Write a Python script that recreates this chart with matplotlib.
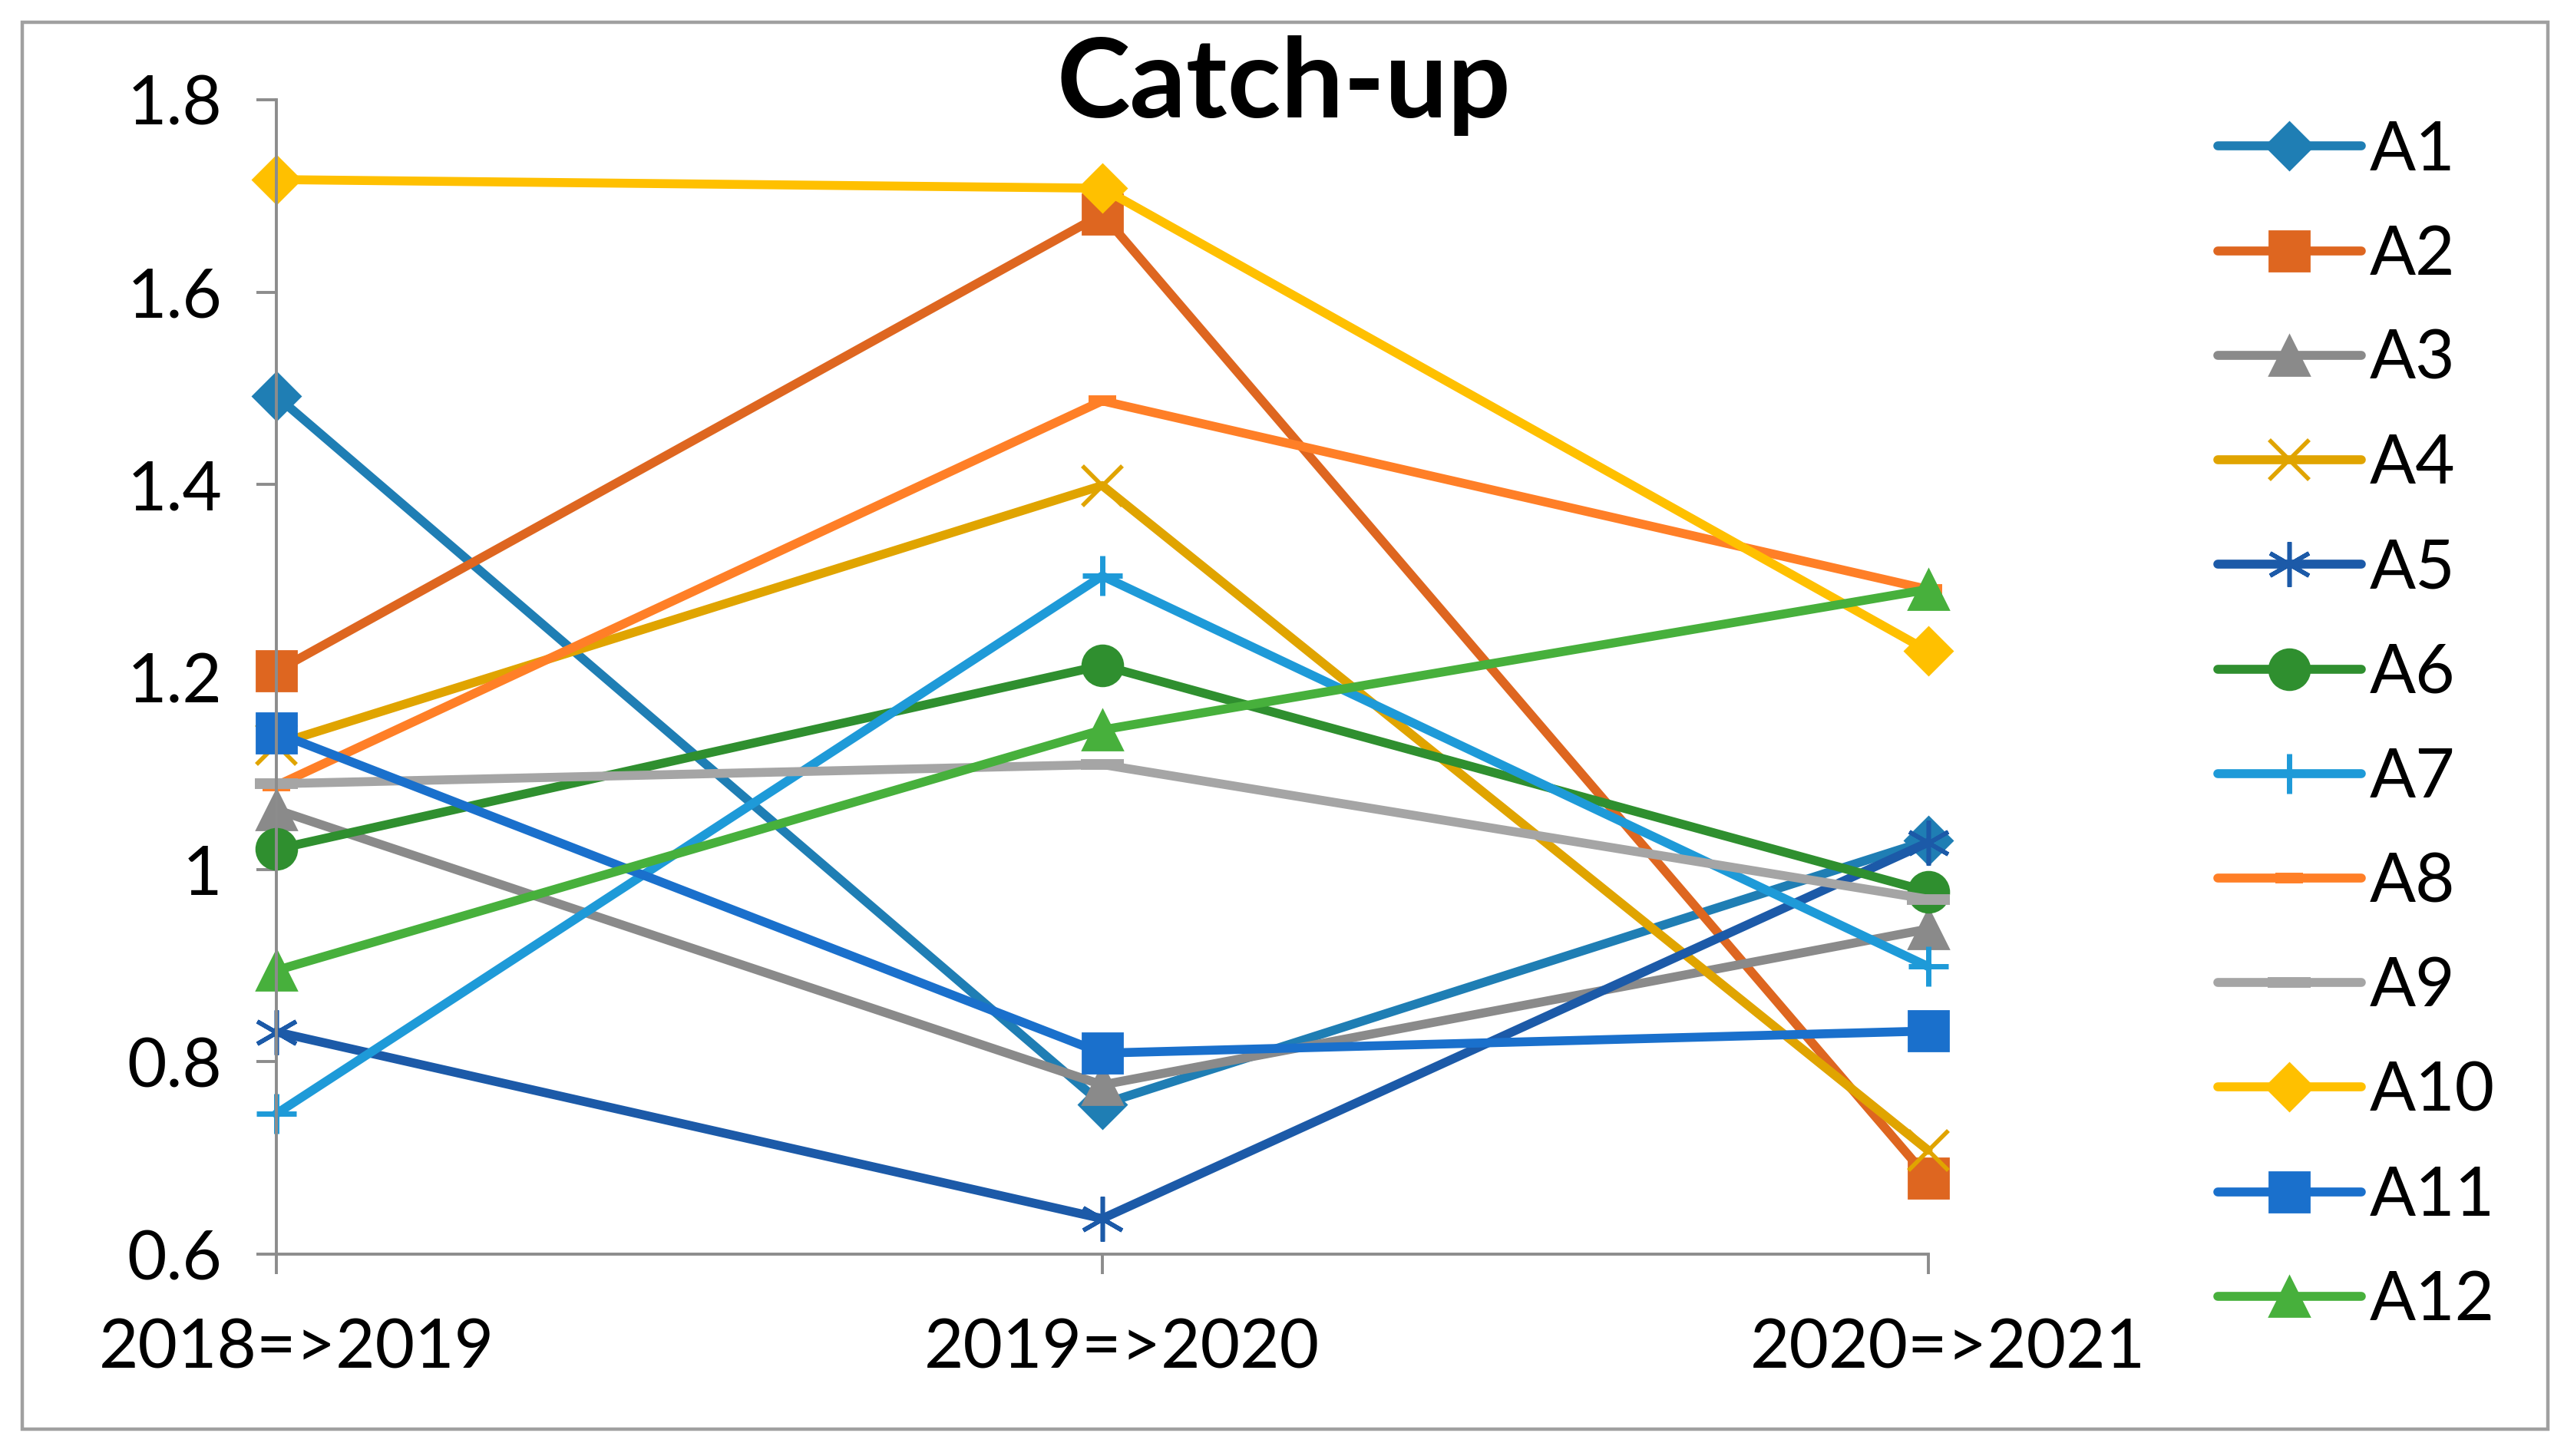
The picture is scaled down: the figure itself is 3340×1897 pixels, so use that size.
import matplotlib
matplotlib.use("Agg")
import matplotlib.pyplot as plt
from matplotlib.patches import Rectangle
from matplotlib.transforms import ScaledTranslation

# data
periods = ["2018=>2019", "2019=>2020", "2020=>2021"]
names = ["A1", "A2", "A3", "A4", "A5", "A6", "A7", "A8", "A9", "A10", "A11", "A12"]
a1 = [1.492, 0.756, 1.030]
a2 = [1.206, 1.681, 0.679]
a3 = [1.062, 0.776, 0.938]
a4 = [1.130, 1.399, 0.708]
a5 = [0.831, 0.637, 1.028]
a6 = [1.021, 1.212, 0.977]
a7 = [0.746, 1.305, 0.899]
a8 = [1.087, 1.487, 1.291]
a9 = [1.089, 1.109, 0.969]
a10 = [1.717, 1.708, 1.227]
a11 = [1.142, 0.809, 0.832]
a12 = [0.895, 1.145, 1.291]
values = [a1, a2, a3, a4, a5, a6, a7, a8, a9, a10, a11, a12]

colors = ["#1F7EB4", "#DE6620", "#8A8A8A", "#E0A400", "#1C5AA8", "#2F8F2F",
          "#1E9AD8", "#FF7F27", "#A5A5A5", "#FFC000", "#1A70CC", "#47B03C"]
markers = ["D", "s", "^", "x", (6, 2, 0), "o", "+", "_", "_", "D", "s", "^"]
msizes = [16, 19, 19, 19, 21, 19, 19, 13, 20, 16, 19, 19]
mews = [1, 1, 1, 2, 2, 1, 2.5, 5, 5, 1, 1, 1]

plt.rcParams['font.family'] = ['Lato', 'DejaVu Sans']

fig = plt.figure(figsize=(16.7, 9.485), dpi=200)
ax = fig.add_axes([0.1078, 0.1386, 0.6442, 0.7929])

x = list(range(len(periods)))
for name, vals, c, m, ms, mew in zip(names, values, colors, markers, msizes, mews):
    ax.plot(x, vals, color=c, lw=4.2, marker=m, markersize=ms,
            markeredgewidth=mew, markerfacecolor=c, markeredgecolor=c,
            label=name, clip_on=False, solid_capstyle='round')

ax.set_xlim(0, 2)
ax.set_ylim(0.6, 1.8)
ax.set_xticks(x)
ax.set_xticklabels(periods)
ax.set_yticks([0.6, 0.8, 1.0, 1.2, 1.4, 1.6, 1.8])
ax.set_yticklabels(["0.6", "0.8", "1", "1.2", "1.4", "1.6", "1.8"])

for side in ["top", "right"]:
    ax.spines[side].set_visible(False)
for side in ["left", "bottom"]:
    ax.spines[side].set_color("#8C8C8C")
    ax.spines[side].set_linewidth(1.4)
ax.tick_params(axis='both', direction='out', length=9.5, width=1.4,
               color="#8C8C8C", labelsize=32, labelcolor="black")
ax.tick_params(axis='y', pad=16)
ax.tick_params(axis='x', pad=20)

# category labels sit a little right of their ticks in the original
shift = ScaledTranslation(26 / 200, 0, fig.dpi_scale_trans)
for lab in ax.get_xticklabels():
    lab.set_transform(lab.get_transform() + shift)

fig.text(0.5006, 0.9193, "Catch-up", ha='center', va='baseline',
         fontsize=52, fontweight='bold')

fig.legend(loc='upper left', bbox_to_anchor=(0.865, 0.918), frameon=False,
           fontsize=32, handlelength=2.1, handletextpad=0.12,
           labelspacing=0.61, borderpad=0, borderaxespad=0)

fig.patches.append(Rectangle((29 / 3340, 1 - 1862 / 1897), 3290 / 3340, 1833 / 1897,
                             transform=fig.transFigure, fill=False,
                             edgecolor="#A0A0A0", lw=1.6))

fig.savefig("out.png", dpi=200)
